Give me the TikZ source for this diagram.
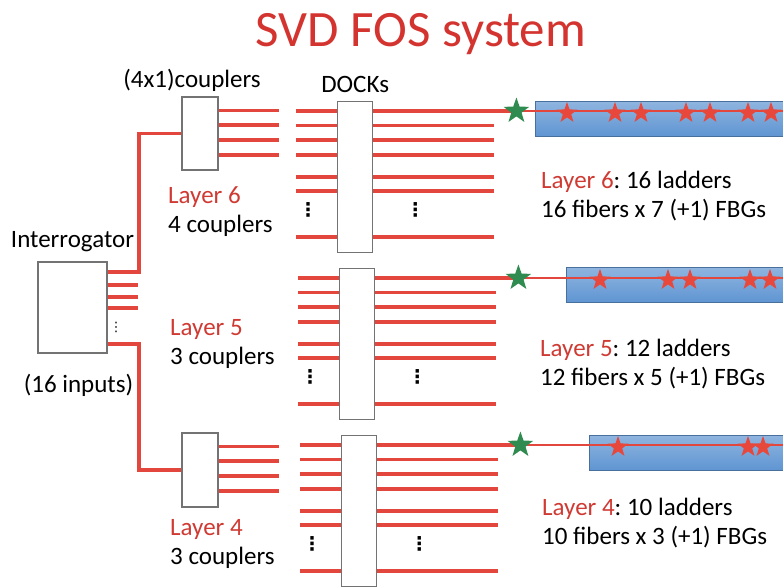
\documentclass[tikz,border=0pt]{standalone}
\usepackage{fontspec}
\setmainfont{Carlito}
\newfontfamily\dotfont{DejaVu Sans}
\usetikzlibrary{positioning,shapes.geometric}
\definecolor{fibc}{HTML}{E2463C}
\definecolor{ttlc}{HTML}{D4342F}
\definecolor{layc}{HTML}{CF3A33}
\definecolor{grnc}{HTML}{2F8B4F}
\definecolor{redc}{HTML}{E8473B}
\definecolor{barc}{HTML}{5F95D2}
\newcommand{\lay}[1]{\textcolor{layc}{Layer #1}}
\frenchspacing

\begin{document}
\begin{tikzpicture}[x=1pt,y=-1pt,
  box/.style={draw=black!55,line width=1.4pt,fill=white,inner sep=0pt},
  fib/.style={draw=fibc,line width=3.4pt},
  lbl/.style={font=\fontsize{25}{29}\selectfont,align=left,inner sep=0pt},
  dots/.style={font=\dotfont\bfseries\fontsize{19}{19}\selectfont,inner sep=0pt},
  bar/.style={draw=barc!75!black,line width=0.5pt,top color=barc!70!white,bottom color=barc,anchor=north west,minimum height=35pt,inner sep=0pt},
  gstar/.style={star,star points=5,star point ratio=2.5,fill=grnc,inner sep=0pt,minimum size=27pt},
  rstar/.style={star,star points=5,star point ratio=2.5,fill=redc,inner sep=0pt,minimum size=22pt}]
\useasboundingbox (0,0) rectangle (783,586);
\node[font=\fontsize{51}{57}\selectfont,text=ttlc] (title) at (421,34) {SVD FOS system};
\node[box,minimum width=69pt,minimum height=91pt] (intg) at (72.5,307.5) {};
\node[lbl,above=9pt of intg] (intgl) {Interrogator};
\node[lbl,below=20pt of intg,xshift=6pt] (inpl) {(16 inputs)};
\node[box,minimum width=36pt,minimum height=73pt] (cp6) at (200,133.5) {};
\node[box,minimum width=36pt,minimum height=74pt] (cp4) at (200,470) {};
\node[lbl,above=5pt of cp6,xshift=-8pt] (cpl) {(4x1)couplers};
\node[box,minimum width=35pt,minimum height=151pt,anchor=north west] (dock6) at (337,101) {};
\node[box,minimum width=35pt,minimum height=151pt,anchor=north west] (dock5) at (339,268) {};
\node[box,minimum width=35pt,minimum height=151pt,anchor=north west] (dock4) at (341,435) {};
\node[lbl,above=8pt of dock6] (dockl) {DOCKs};
\node[bar,minimum width=255pt] (bar6) at (535,101) {};
\node[bar,minimum width=224pt] (bar5) at (566,267) {};
\node[bar,minimum width=201pt] (bar4) at (589,435) {};
\node[lbl,anchor=west] (l6c) at (168,212) {\lay{6}\\4 couplers};
\node[lbl,anchor=west] (l5c) at (170,343.5) {\lay{5}\\3 couplers};
\node[lbl,anchor=west] (l4c) at (170,544) {\lay{4}\\3 couplers};
\node[lbl,anchor=west] (l6f) at (541,196) {\lay{6}: 16 ladders\\16 fibers x 7 (+1) FBGs};
\node[lbl,anchor=west] (l5f) at (540,364) {\lay{5}: 12 ladders\\12 fibers x 5 (+1) FBGs};
\node[lbl,anchor=west] (l4f) at (542,523.5) {\lay{4}: 10 ladders\\10 fibers x 3 (+1) FBGs};
\draw[fib] (intg.east |- 0,272) -- (139,272) |- (cp6);
\draw[fib] (intg.east |- 0,344) -- (139,344) |- (cp4);
\foreach \fy in {285,297,308} \draw[fib] (intg.east |- 0,\fy) -- ++(30,0);
\node[dots,font=\dotfont\fontsize{13}{13}\selectfont] (idots) at (116,327) {⋮};
\foreach \fy in {14,28.5,43.5,58.5} {
  \draw[fib] ([yshift=-\fy pt]cp6.north east) -- ++(60,0);
  \draw[fib] ([yshift=-\fy pt]cp4.north east) -- ++(60,0);
}
\foreach \d in {6,5,4} {
  \foreach \fy in {10,24.5,39,54,76,90,136}
    \draw[fib] ([yshift=-\fy pt]dock\d.north west) -- ++(-41,0);
  \foreach \fy in {24.5,39,54,76,90,136}
    \draw[fib] ([yshift=-\fy pt]dock\d.north east) -- ++(121,0);
  \node[dots] (ld\d) at ([shift={(-29pt,-109pt)}]dock\d.north west) {⋮};
  \node[dots] (rd\d) at ([shift={(42pt,-109pt)}]dock\d.north east) {⋮};
  \coordinate (f\d) at ([shift={(143pt,-10pt)}]dock\d.north east);
  \draw[fib] ([yshift=-10pt]dock\d.north east) -- (f\d);
  \draw[fibc,line width=2.4pt] (f\d) -- (bar\d.east |- f\d);
  \node[gstar] (g\d) at (f\d) {};
}
\foreach \sx in {567,615,641,686,710,748,771} \node[rstar] (r6-\sx) at (\sx,113) {};
\foreach \sx in {600,668,690,750,770} \node[rstar] (r5-\sx) at (\sx,280) {};
\foreach \sx in {618,748,763} \node[rstar] (r4-\sx) at (\sx,447) {};
\end{tikzpicture}
\end{document}
